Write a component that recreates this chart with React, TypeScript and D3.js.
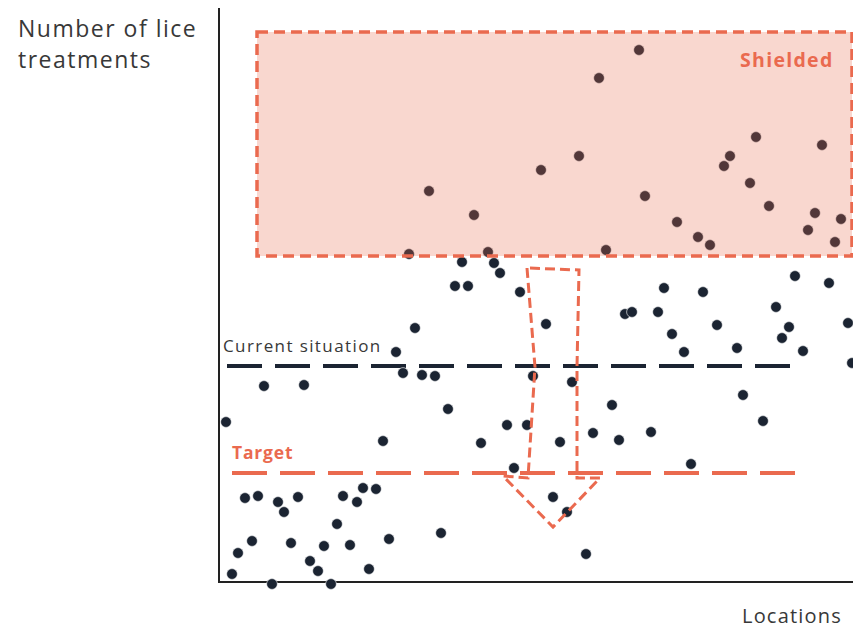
import React from "react";
import * as d3 from "d3";

// Locations (x, arbitrary units) and number of lice treatments (y, arbitrary units)
const locX: number[] = [
  105, 127.5, 95, 134.5, 121.5, 137.5, 140.5, 210, 190, 161, 180, 213, 229, 239.5, 245.5, 193.5,
  268.5, 255.5, 252.5, 265.5, 275, 301.5, 298, 294.5, 311, 308,
  118, 124.5, 150.5, 98, 88.5, 92, 101.5, 108, 22.5, 42.5, 114.5, 3.5, 144, 154, 82, 131,
  163.5, 157, 176.5, 170.5, 187, 200, 216, 196.5, 222.5, 242, 203, 206.5, 219.5, 226.5, 232.5,
  249, 259, 262, 272, 288, 305, 278.5, 285, 281.5, 292, 314.5, 316.5,
  147.5, 13, 19.5, 29.5, 32.5, 39.5, 62, 69, 72, 78.5, 59, 16.5, 36, 52.5, 65.5, 85, 111,
  9.5, 6.5, 45.5, 49.5, 75, 26.5, 56, 236, 167, 174, 183.5,
];
const treatments: number[] = [
  195.5, 183.5, 164, 165, 160, 159.5, 154.5, 266, 252, 206, 213, 193, 180, 172.5, 168.5, 166,
  222.5, 213, 208, 199.5, 188, 218.5, 184.5, 176, 181.5, 170,
  148, 148, 145, 127, 115, 104.5, 103.5, 103, 98, 98.5, 86.5, 80, 78.5, 78.5, 70.5, 69.5,
  129, 103, 100, 70, 74.5, 71, 75, 88.5, 147, 145, 134, 135, 135, 124, 115,
  128.5, 117, 93.5, 80.5, 153, 149.5, 137.5, 127.5, 122, 115.5, 129.5, 109.5,
  57, 42, 43, 40, 35, 42.5, 43, 40, 47, 46.5, 29, 20.5, 19.5, 18, 18.5, 21.5, 24.5,
  14.5, 4, 10.5, 5.5, 6.5, -1, -1, 59, 42.5, 35, 14,
];

// Reference levels
const currentLevel = 108;
const targetLevel = 54.5;
const currentSpan: number[] = [4, 288];
const targetSpan: number[] = [6.5, 291];

// Shielded zone [x0, x1] x [y0, y1]
const shieldX: number[] = [19, 316.5];
const shieldY: number[] = [163, 275];

// Down arrow outline (x, y)
const arrowX: number[] = [154, 158, 154.5, 142, 167, 190.5, 179, 179, 180];
const arrowY: number[] = [157, 107.5, 52, 53, 27.5, 52, 52, 107.5, 156];

const labels = {
  y: ["Number of lice", "treatments"],
  x: "Locations",
  current: "Current situation",
  target: "Target",
  shield: "Shielded",
};

const W = 853;
const H = 628;
const ORANGE = "#EA6A4F";
const NAVY = "#1B2432";
const TEXT = "#383838";
const FONT = "'Open Sans', 'Noto Sans', sans-serif";

export default function App() {
  const x = d3.scaleLinear().domain([0, 317]).range([219, 853]);
  const y = d3.scaleLinear().domain([0, 287]).range([582, 8]);

  const arrowPts: [number, number][] = arrowX.map((v, i) => [x(v), y(arrowY[i])]);
  const arrowPath = d3.line()(arrowPts) + "Z";

  return (
    <svg
      width={W}
      height={H}
      style={{ position: "absolute", left: 0, top: 0, background: "#fff" }}
      fontFamily={FONT}
    >
      {/* axes */}
      <line x1={x(0)} x2={x(0)} y1={y(287)} y2={y(0)} stroke="#222" strokeWidth={2} />
      <line x1={x(0) - 1} x2={x(317)} y1={y(0)} y2={y(0)} stroke="#222" strokeWidth={2} />

      {/* y label */}
      {labels.y.map((t, i) => (
        <text
          key={t}
          x={18}
          y={37 + i * 31}
          fontSize={23}
          fill={TEXT}
          letterSpacing={1.5}
        >
          {t}
        </text>
      ))}
      <text x={742} y={623} fontSize={20} fill={TEXT} letterSpacing={1.2}>
        {labels.x}
      </text>

      {/* reference lines */}
      <line
        x1={x(currentSpan[0])}
        x2={x(currentSpan[1])}
        y1={y(currentLevel)}
        y2={y(currentLevel)}
        stroke={NAVY}
        strokeWidth={4}
        strokeDasharray="35 13"
      />
      <text x={223} y={352} fontSize={17} fill={TEXT} letterSpacing={1.4}>
        {labels.current}
      </text>
      <line
        x1={x(targetSpan[0])}
        x2={x(targetSpan[1])}
        y1={y(targetLevel)}
        y2={y(targetLevel)}
        stroke={ORANGE}
        strokeWidth={4}
        strokeDasharray="35 13"
      />
      <text x={232} y={459} fontSize={17.5} fontWeight={700} fill={ORANGE} letterSpacing={0.8}>
        {labels.target}
      </text>

      {/* points */}
      {locX.map((v, i) => (
        <circle key={i} cx={x(v)} cy={y(treatments[i])} r={5.4} fill={NAVY} stroke="#fff" strokeWidth={0.6} />
      ))}

      {/* shielded zone */}
      <rect
        x={x(shieldX[0])}
        y={y(shieldY[1])}
        width={x(shieldX[1]) - x(shieldX[0])}
        height={y(shieldY[0]) - y(shieldY[1])}
        fill={ORANGE}
        fillOpacity={0.27}
        stroke={ORANGE}
        strokeWidth={3.5}
        strokeDasharray="11 6"
      />
      <text x={740} y={67} fontSize={19.5} fontWeight={700} fill={ORANGE} letterSpacing={1.3}>
        {labels.shield}
      </text>

      {/* arrow */}
      <path
        d={arrowPath}
        fill="none"
        stroke={ORANGE}
        strokeWidth={3}
        strokeDasharray="10 5"
        strokeLinejoin="miter"
      />
    </svg>
  );
}
